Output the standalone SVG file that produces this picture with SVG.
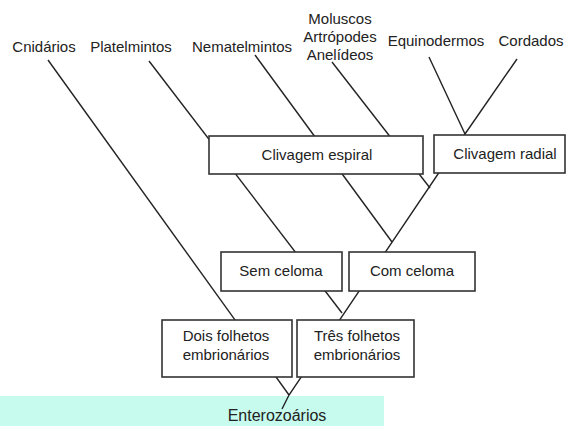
<svg xmlns="http://www.w3.org/2000/svg" width="567" height="426" viewBox="0 0 567 426">
<style>
text{font-family:"Liberation Sans",Arial,sans-serif;font-size:15px;fill:#222;text-anchor:middle}
.ln{stroke:#222;stroke-width:1.4;fill:none}
.box rect{fill:#fff;stroke:#333;stroke-width:1.6}
</style>
<rect x="0" y="396" width="384" height="30" fill="#c6fbee"/>
<g id="labels">
<text x="44" y="52">Cnidários</text>
<text x="131" y="52">Platelmintos</text>
<text x="242" y="52">Nematelmintos</text>
<text x="340" y="24">Moluscos</text>
<text x="340" y="42">Artrópodes</text>
<text x="340" y="60">Anelídeos</text>
<text x="436" y="46">Equinodermos</text>
<text x="531" y="46">Cordados</text>
</g>
<g id="connectors" class="ln">
<line x1="48" y1="60" x2="289" y2="395"/>
<line x1="149" y1="61" x2="342" y2="313"/>
<line x1="255" y1="55" x2="392" y2="242"/>
<line x1="332" y1="62" x2="430" y2="188"/>
<line x1="429" y1="57" x2="465" y2="134"/>
<line x1="517" y1="59" x2="465" y2="134"/>
<polyline points="465,134 289,395 282,409"/>
</g>
<g id="clivagem-espiral" class="box"><rect x="209" y="136" width="214" height="38"/><text x="317" y="160">Clivagem espiral</text></g>
<g id="clivagem-radial" class="box"><rect x="434" y="135" width="131" height="38"/><text x="505" y="159">Clivagem radial</text></g>
<g id="sem-celoma" class="box"><rect x="221" y="252" width="121" height="39"/><text x="281" y="276">Sem celoma</text></g>
<g id="com-celoma" class="box"><rect x="349" y="252" width="126" height="39"/><text x="412" y="276">Com celoma</text></g>
<g id="dois-folhetos" class="box"><rect x="162" y="320" width="130" height="57"/><text x="226" y="341">Dois folhetos</text><text x="226" y="360">embrionários</text></g>
<g id="tres-folhetos" class="box"><rect x="297" y="320" width="117" height="57"/><text x="357" y="341">Três folhetos</text><text x="357" y="360">embrionários</text></g>
<g id="enterozoarios"><text x="277" y="421" style="font-size:16px">Enterozoários</text></g>
</svg>
